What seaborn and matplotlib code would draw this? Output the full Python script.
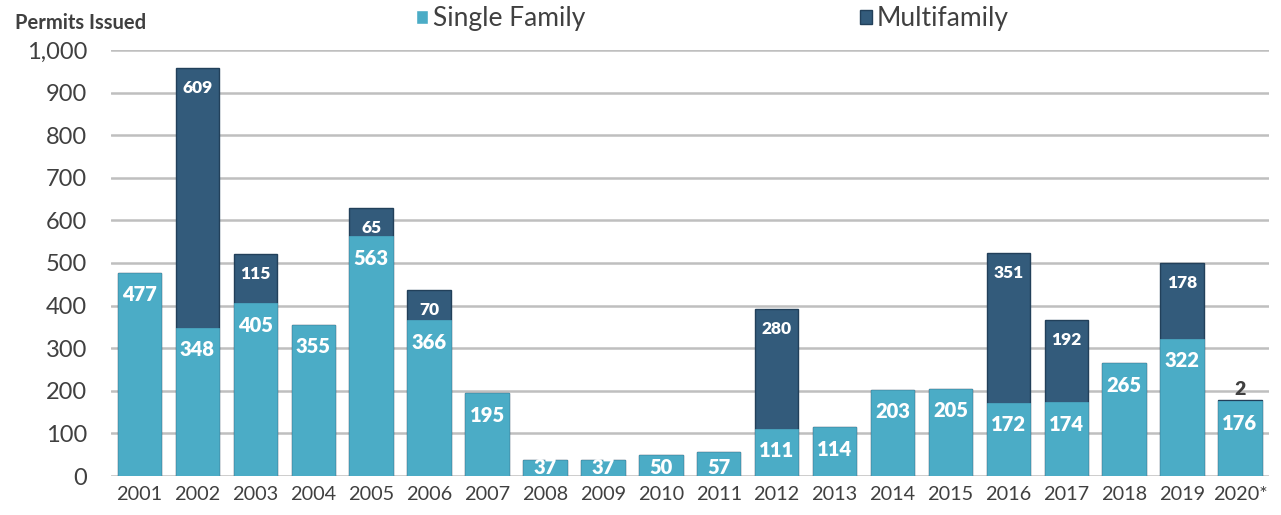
import pandas as pd
import seaborn as sns
import matplotlib.pyplot as plt
from matplotlib.patches import Patch

# permit counts by year
years = ['2001', '2002', '2003', '2004', '2005', '2006', '2007', '2008', '2009', '2010',
         '2011', '2012', '2013', '2014', '2015', '2016', '2017', '2018', '2019', '2020*']
single_family = [477, 348, 405, 355, 563, 366, 195, 37, 37, 50,
                 57, 111, 114, 203, 205, 172, 174, 265, 322, 176]
multifamily = [0, 609, 115, 0, 65, 70, 0, 0, 0, 0,
               0, 280, 0, 0, 0, 351, 192, 0, 178, 2]

SF_COLOR = '#4BACC6'
MF_COLOR = '#335B7B'
TXT = '#404040'

df = pd.DataFrame({'year': years, 'single': single_family, 'multi': multifamily})
df['total'] = df['single'] + df['multi']

sns.set_style('white')
plt.rcParams['font.family'] = ['Lato', 'DejaVu Sans']

fig = plt.figure(figsize=(12.81, 5.15), dpi=100)
ax = fig.add_axes([0.0863, 0.0757, 0.9043, 0.8273])

# stacked: draw totals in multifamily colour, single family on top of that
sns.barplot(data=df, x='year', y='total', color=MF_COLOR, saturation=1, width=0.75,
            edgecolor='#22405A', linewidth=1, ax=ax)
sns.barplot(data=df, x='year', y='single', color=SF_COLOR, saturation=1, width=0.75,
            edgecolor=SF_COLOR, linewidth=0.5, ax=ax)

ax.set_ylim(0, 1000)
ax.set_xlim(-0.5, len(years) - 0.5)
ax.set_yticks(range(0, 1001, 100))
ax.set_yticklabels([f'{v:,}' for v in range(0, 1001, 100)])
ax.set_axisbelow(True)
ax.yaxis.grid(True, color='#BFBFBF', linewidth=1.8)
for s in ax.spines.values():
    s.set_visible(False)
ax.tick_params(axis='y', length=0, pad=17, labelsize=17, labelcolor=TXT)
ax.tick_params(axis='x', length=0, pad=7, labelsize=14.3, labelcolor=TXT)
ax.set_xlabel('')
ax.set_ylabel('')

# value labels
for i, row in df.iterrows():
    sf = row['single']
    ax.text(i, max(sf - 52, 21), f'{sf}', ha='center', va='center',
            color='white', fontsize=14.5, fontweight='heavy')
    mf = row['multi']
    if mf >= 50:
        ax.text(i, row['total'] - 47, f'{mf}', ha='center', va='center',
                color='white', fontsize=12.5, fontweight='heavy')
    elif mf > 0:
        ax.text(i, row['total'] + 6, f'{mf}', ha='center', va='bottom',
                color=TXT, fontsize=14, fontweight='heavy')

fig.text(0.012, 0.955, 'Permits Issued', ha='left', va='center',
         fontsize=14.5, fontweight='bold', color=TXT)

handles = [Patch(facecolor=SF_COLOR, label='Single Family'),
           Patch(facecolor=MF_COLOR, edgecolor='#22405A', label='Multifamily')]
leg = fig.legend(handles=handles, loc='center', bbox_to_anchor=(0.556, 0.964), ncol=2,
                 frameon=False, fontsize=19, handlelength=0.45, handleheight=0.45,
                 handletextpad=0.2, columnspacing=10.4, borderpad=0)
for t in leg.get_texts():
    t.set_color(TXT)

plt.savefig('out.png', dpi=100)
